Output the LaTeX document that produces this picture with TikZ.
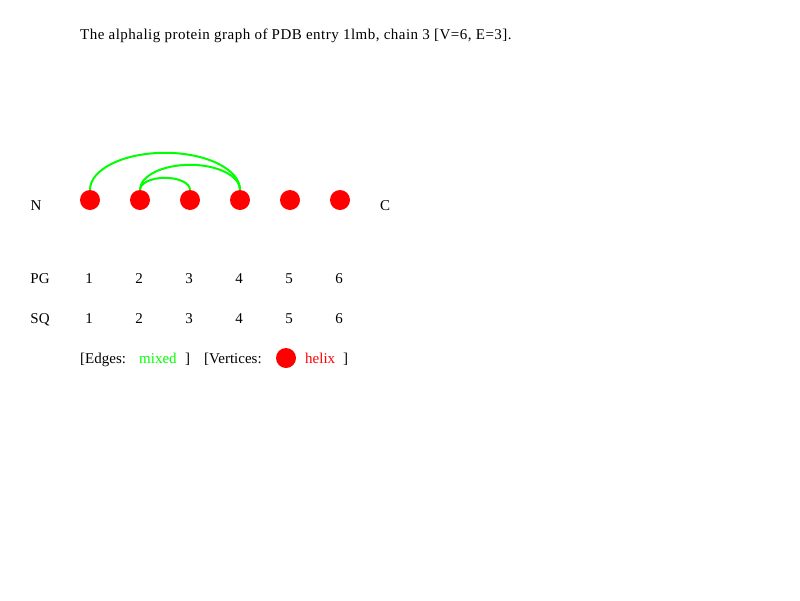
\documentclass[tikz,border=0pt]{standalone}
\usepackage{fontspec}
\setmainfont{Liberation Serif}
\newfontfamily\titlefont[LetterSpace=3.2]{Liberation Serif}
\definecolor{edgegreen}{RGB}{0,255,0}
\definecolor{vred}{RGB}{255,0,0}
\begin{document}
\begin{tikzpicture}[x=1pt,y=-1pt,
  every node/.style={font=\fontsize{15}{17}\selectfont, inner sep=0pt},
  vertex/.style={circle, fill=vred, minimum size=20pt, inner sep=0pt},
  edgearc/.style={draw=edgegreen, line width=2pt},
  lbl/.style={anchor=base}]
\useasboundingbox (0,0) rectangle (800,600);
\node[anchor=base west, font=\titlefont\fontsize{15}{17}\selectfont] (title) at (80,39) {The alphalig protein graph of PDB entry 1lmb, chain 3 [V=6, E=3].};
\foreach \i in {1,...,6} {
  \node[vertex] (v\i) at (40+50*\i,200) {};
}
\node[lbl] (N) at (36,210) {N};
\node[lbl] (C) at (385,210) {C};
\draw[edgearc] (v1.north) arc[start angle=180, end angle=360, x radius=75, y radius=37];
\draw[edgearc] (v2.north) arc[start angle=180, end angle=360, x radius=50, y radius=25];
\draw[edgearc] (v2.north) arc[start angle=180, end angle=360, x radius=25, y radius=12];
\node[lbl] (pg) at (40,283) {PG};
\node[lbl] (sq) at (40,323) {SQ};
\foreach \i in {1,...,6} {
  \node[lbl] (p\i) at (39+50*\i,283) {\i};
  \node[lbl] (s\i) at (39+50*\i,323) {\i};
}
\node[anchor=base west] (le1) at (80,363) {[Edges:};
\node[anchor=base west, text=edgegreen] (le2) at (139,363) {mixed};
\node[anchor=base west] (le3) at (185,363) {]};
\node[anchor=base west] (le4) at (204,363) {[Vertices:};
\node[vertex] (lv) at (286,358) {};
\node[anchor=base west, text=vred] (le5) at (305,363) {helix};
\node[anchor=base west] (le6) at (343,363) {]};
\end{tikzpicture}
\end{document}
